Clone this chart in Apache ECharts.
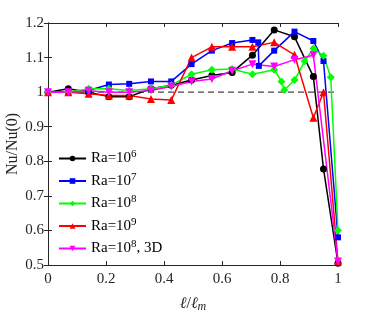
<!DOCTYPE html>
<html><head><meta charset="utf-8">
<script src="https://cdn.jsdelivr.net/npm/echarts@6/dist/echarts.min.js"></script>
<style>html,body{margin:0;padding:0;background:#fff}#c{width:374px;height:312px}</style>
</head><body><div id="c"></div>
<script>
var xTicks = [0, 0.2, 0.4, 0.6, 0.8, 1];
var yTicks = [0.5, 0.6, 0.7, 0.8, 0.9, 1, 1.1, 1.2];

var blackX = [0,0.07,0.14,0.21,0.28,0.355,0.425,0.495,0.565,0.635,0.705,0.78,0.85,0.915,0.95,1];
var blackY = [1,1.01,1.0,0.987,0.987,1.01,1.02,1.035,1.048,1.057,1.107,1.18,1.16,1.045,0.778,0.505];

var blueX = [0,0.07,0.14,0.21,0.28,0.355,0.425,0.495,0.565,0.635,0.705,0.725,0.727,0.78,0.85,0.915,0.95,1];
var blueY = [1,1,1.005,1.022,1.024,1.031,1.031,1.081,1.12,1.142,1.151,1.144,1.076,1.12,1.175,1.148,1.09,0.58];

var greenX = [0,0.07,0.14,0.21,0.28,0.355,0.425,0.495,0.565,0.635,0.705,0.78,0.805,0.815,0.85,0.885,0.915,0.95,0.975,1];
var greenY = [1,1,1.01,1.01,1.005,1.01,1.02,1.052,1.065,1.067,1.052,1.065,1.031,1.006,1.035,1.089,1.126,1.105,1.043,0.6];

var redX = [0,0.07,0.14,0.21,0.28,0.355,0.425,0.495,0.565,0.635,0.705,0.78,0.85,0.915,0.95,1];
var redY = [1,1,0.995,0.99,0.99,0.98,0.977,1.1,1.131,1.131,1.131,1.144,1.108,0.926,1.0,0.51];

var magX = [0,0.07,0.14,0.21,0.28,0.355,0.425,0.495,0.565,0.635,0.705,0.78,0.85,0.915,1];
var magY = [1,1,1.004,1.0,1.0,1.005,1.016,1.031,1.038,1.062,1.081,1.074,1.094,1.107,0.51];

var refX = [0, 1];
var refY = [1, 1];

var seriesNames = ['Ra=10^6','Ra=10^7','Ra=10^8','Ra=10^9','Ra=10^8, 3D'];

function zip(a,b){return a.map(function(v,i){return [v,b[i]];});}
var FONT = '"Liberation Serif", "Times New Roman", serif';
var chart = echarts.init(document.getElementById('c'), null, {renderer:'canvas'});

function mk(name, xs, ys, color, symbol, rot, size){
  return {name:name, type:'line', data:zip(xs,ys), xAxisIndex:0, yAxisIndex:0,
    symbol:symbol, symbolRotate:rot||0, symbolSize:size, showSymbol:true,
    lineStyle:{color:color, width:1.5}, itemStyle:{color:color, borderWidth:0},
    emphasis:{disabled:true}, animation:false, z:3};
}
var axisLine = {show:true, lineStyle:{color:'#262626', width:1}};
var option = {
  animation:false,
  textStyle:{fontFamily:FONT},
  grid:{left:48, right:36, top:23, bottom:47, show:false, containLabel:false, outerBoundsMode:'none'},
  xAxis:[{type:'value', min:0, max:1, interval:0.2, position:'bottom',
      axisLine:axisLine, axisTick:{show:true, inside:true, length:4, lineStyle:{color:'#262626'}},
      splitLine:{show:false},
      axisLabel:{fontFamily:FONT, fontSize:15, color:'#262626', margin:7,
        formatter:function(v){return String(Math.round(v*10)/10);}},
      name:'{i|ℓ}{n|/}{i|ℓ}{s|m}', nameLocation:'middle', nameGap:30, nameMoveOverlap:false,
      nameTextStyle:{rich:{i:{fontFamily:FONT, fontStyle:'italic', fontSize:16, color:'#262626'},
        n:{fontFamily:FONT, fontSize:16, color:'#262626'},
        s:{fontFamily:FONT, fontStyle:'italic', fontSize:12, color:'#262626', verticalAlign:'bottom', padding:[6,0,0,0]}}}},
    {type:'value', min:0, max:1, interval:0.2, position:'top',
      axisLine:axisLine, axisTick:{show:true, inside:true, length:4, lineStyle:{color:'#262626'}},
      axisLabel:{show:false}, splitLine:{show:false}}],
  yAxis:[{type:'value', min:0.5, max:1.2, interval:0.1, position:'left',
      axisLine:axisLine, axisTick:{show:true, inside:true, length:4, lineStyle:{color:'#262626'}},
      splitLine:{show:false},
      axisLabel:{fontFamily:FONT, fontSize:15, color:'#262626', margin:4,
        formatter:function(v){return String(Math.round(v*10)/10);}},
      name:'Nu/Nu(0)', nameLocation:'middle', nameGap:27, nameRotate:90, nameMoveOverlap:false,
      nameTextStyle:{fontFamily:FONT, fontSize:16, color:'#262626'}},
    {type:'value', min:0.5, max:1.2, interval:0.1, position:'right',
      axisLine:axisLine, axisTick:{show:true, inside:true, length:4, lineStyle:{color:'#262626'}},
      axisLabel:{show:false}, splitLine:{show:false}}],
  legend:{orient:'vertical', left:53, top:144, itemWidth:27, itemHeight:7, itemGap:5.5,
    data:seriesNames, backgroundColor:'transparent',
    textStyle:{fontFamily:FONT, fontSize:15, color:'#000',
      rich:{a:{fontFamily:FONT, fontSize:15, color:'#000'}, s:{fontFamily:FONT, fontSize:11, color:'#000', verticalAlign:'top', padding:[0,0,8,0]}}},
    formatter:function(n){
      var m = n.match(/^Ra=10\^(\d)(.*)$/);
      return '{a|Ra=10}{s|'+m[1]+'}{a|'+m[2]+'}';
    }},
  series:[
    {name:'ref', type:'line', data:zip(refX,refY), symbol:'none', lineStyle:{color:'#444', width:1.2, type:[6,4]}, z:1, silent:true},
    mk(seriesNames[0], blackX, blackY, '#000000', 'circle', 0, 7),
    mk(seriesNames[1], blueX, blueY, '#0000ff', 'rect', 0, 6),
    mk(seriesNames[2], greenX, greenY, '#00ff00', 'diamond', 0, 8),
    mk(seriesNames[3], redX, redY, '#ff0000', 'triangle', 0, 8),
    mk(seriesNames[4], magX, magY, '#ff00ff', 'triangle', 180, 8)
  ]
};
chart.setOption(option);
</script></body></html>
